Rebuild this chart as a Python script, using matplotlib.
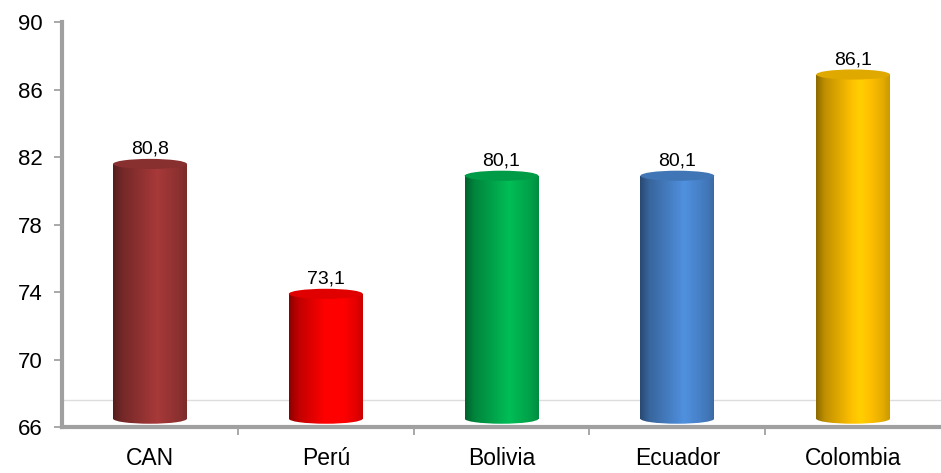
import numpy as np
import matplotlib
matplotlib.use('Agg')
import matplotlib.pyplot as plt
from matplotlib.patches import Ellipse, Rectangle
from matplotlib.colors import to_rgb

plt.rcParams['font.family'] = ['Liberation Sans', 'DejaVu Sans']

categories = ['CAN', 'Perú', 'Bolivia', 'Ecuador', 'Colombia']
values = [80.8, 73.1, 80.1, 80.1, 86.1]
labels = ['80,8', '73,1', '80,1', '80,1', '86,1']
colors = ['#9b3535', '#ff0000', '#00b050', '#4a86cf', '#ffc000']

ymin, ymax = 66, 90
bar_w = 0.42
cap_h = 0.6   # ellipse height in data units


def shade(base, t):
    # cylinder shading: dark on the left, bright around 60%, darker on the right
    c = np.array(to_rgb(base))
    k = np.interp(t, [0, 0.12, 0.6, 0.9, 1], [0.55, 0.75, 1.08, 0.9, 0.8])
    return np.clip(c * k[:, None], 0, 1)


fig = plt.figure(figsize=(9.41, 4.73), dpi=100)
ax = fig.add_axes([0.066, 0.097, 0.934, 0.856])

ax.set_xlim(-0.5, len(categories) - 0.5)
ax.set_ylim(ymin, ymax)

# faint back-wall line
ax.axhline(67.6, color='#dddddd', lw=1, zorder=0)

for i, (v, c, lab) in enumerate(zip(values, colors, labels)):
    x0, x1 = i - bar_w / 2, i + bar_w / 2
    bottom = ymin + 0.5
    top = v + 0.8
    t = np.linspace(0, 1, 200)
    grad = shade(c, t)[None, :, :]
    clip_rect = Rectangle((x0, bottom), bar_w, top - bottom, transform=ax.transData)
    im = ax.imshow(grad, extent=[x0, x1, bottom - cap_h / 2, top], aspect='auto',
                   interpolation='bilinear', zorder=2)
    im.set_clip_path(clip_rect)
    im2 = ax.imshow(grad, extent=[x0, x1, bottom - cap_h / 2, top], aspect='auto',
                    interpolation='bilinear', zorder=2)
    im2.set_clip_path(Ellipse((i, bottom), bar_w, cap_h, transform=ax.transData))
    top_col = np.clip(np.array(to_rgb(c)) * 0.88, 0, 1)
    ax.add_patch(Ellipse((i, top), bar_w, cap_h, facecolor=top_col,
                         edgecolor='none', zorder=3))
    ax.annotate(lab, (i, top + cap_h / 2), xytext=(0, 1), textcoords='offset points',
                ha='center', va='bottom', fontsize=14, zorder=4)

ax.set_yticks(np.arange(ymin, ymax + 1, 4))
ax.set_xticks(range(len(categories)))
ax.set_xticklabels(categories)
ax.set_xticks(np.arange(0.5, len(categories) - 0.5, 1), minor=True)
ax.tick_params(axis='y', labelsize=16, length=6, width=1.2, color='#999999', pad=8)
ax.tick_params(axis='x', which='major', labelsize=16.5, length=0, pad=14)
ax.tick_params(axis='x', which='minor', length=6, width=1.2, color='#999999')

for s in ['top', 'right']:
    ax.spines[s].set_visible(False)
for s in ['left', 'bottom']:
    ax.spines[s].set_color('#a0a0a0')
    ax.spines[s].set_linewidth(3)

fig.savefig('out.png', dpi=100)
